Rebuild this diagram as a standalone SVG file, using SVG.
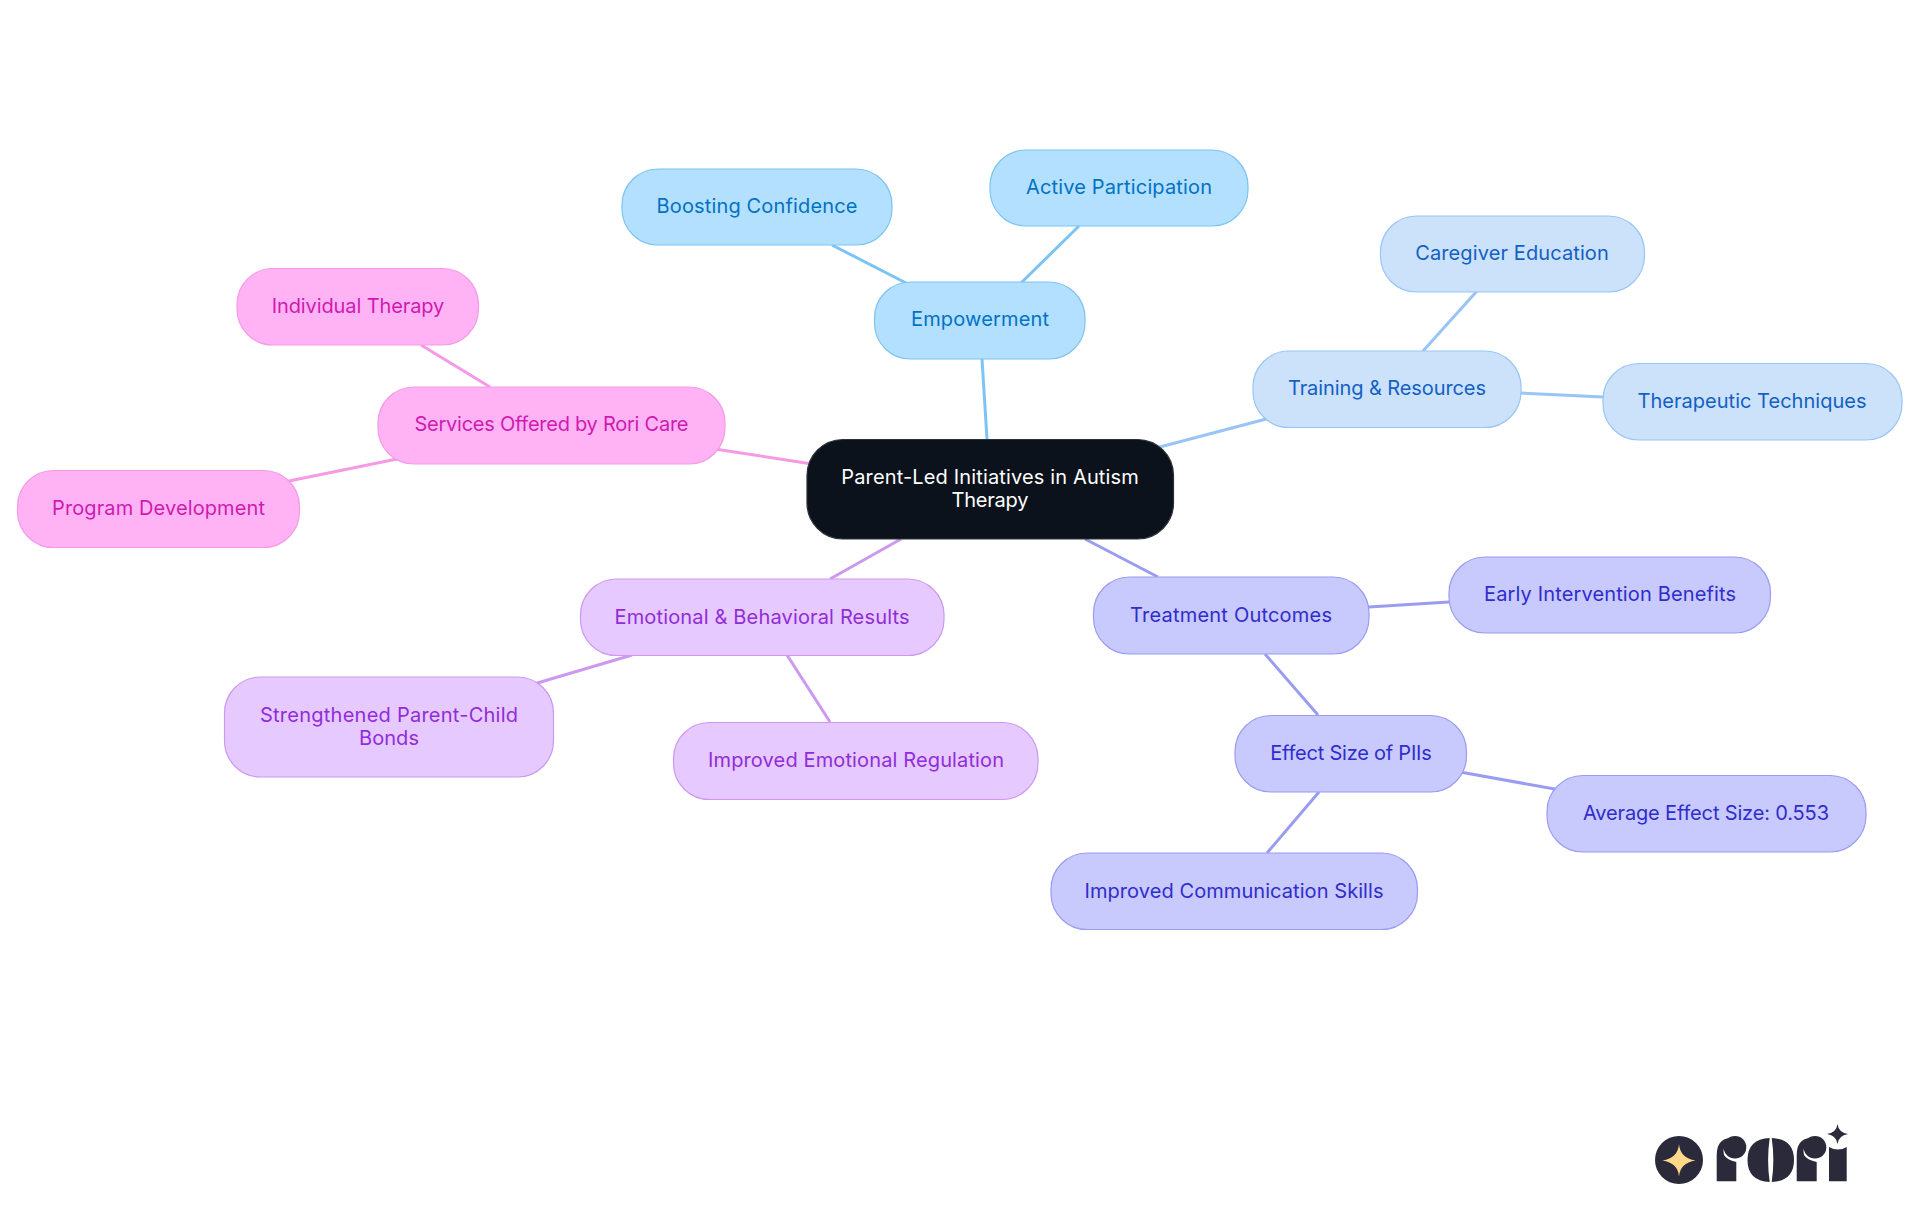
<svg xmlns="http://www.w3.org/2000/svg" width="1920" height="1215" viewBox="0 0 1920 1215">
<style>
text{font-family:"Inter","Noto Sans","Liberation Sans",sans-serif;font-size:20px;font-weight:400;text-anchor:middle}
rect{stroke-width:1.2}
#connectors line{stroke-width:3;fill:none}
.c0 rect{fill:#0b121b;stroke:#2b3038}.c0 text{fill:#fff}
.c1 rect{fill:#b3e0ff;stroke:#7dc3f3}.c1 text{fill:#0272c4}
.c2 rect{fill:#cce2fb;stroke:#98c5f5}.c2 text{fill:#1260c4}
.c3 rect{fill:#c8c9fd;stroke:#9a9cf0}.c3 text{fill:#2f2dcc}
.c4 rect{fill:#e6c9ff;stroke:#cc99f0}.c4 text{fill:#902dd8}
.c5 rect{fill:#ffb3f5;stroke:#f59ae6}.c5 text{fill:#cf1ab0}
.l1{stroke:#7dc3f3}.l2{stroke:#98c5f5}.l3{stroke:#9a9cf0}.l4{stroke:#cc99f0}.l5{stroke:#f59ae6}
.logo{fill:#2a2a3a}
</style>
<rect width="1920" height="1215" fill="#fff" style="stroke:none"/>
<g id="connectors">
<line class="l1" x1="982" y1="359" x2="987" y2="439"/>
<line class="l1" x1="832" y1="245" x2="906" y2="283"/>
<line class="l1" x1="1079" y1="226" x2="1021" y2="283"/>
<line class="l2" x1="1270" y1="418" x2="1156" y2="448"/>
<line class="l2" x1="1477" y1="291" x2="1423" y2="351"/>
<line class="l2" x1="1521" y1="393" x2="1603" y2="397"/>
<line class="l3" x1="1085" y1="539" x2="1158" y2="577"/>
<line class="l3" x1="1369" y1="607" x2="1449" y2="602"/>
<line class="l3" x1="1265" y1="654" x2="1318" y2="715"/>
<line class="l3" x1="1460" y1="772" x2="1560" y2="790"/>
<line class="l3" x1="1319" y1="792" x2="1267" y2="853"/>
<line class="l4" x1="901" y1="539" x2="830" y2="579"/>
<line class="l4" x1="632" y1="655" x2="534" y2="684"/>
<line class="l4" x1="787" y1="655" x2="830" y2="722"/>
<line class="l5" x1="715" y1="449" x2="812" y2="464"/>
<line class="l5" x1="421" y1="345" x2="490" y2="387"/>
<line class="l5" x1="284" y1="482" x2="402" y2="458"/>
</g>
<g id="root" class="c0"><rect x="807" y="439.500" width="366.500" height="99.500" rx="36"/><text x="990" y="484" textLength="297.500">Parent-Led Initiatives in Autism</text><text x="990" y="507" textLength="77">Therapy</text></g>
<g id="empowerment" class="c1"><rect x="874.500" y="282" width="210.500" height="77" rx="36"/><text x="980" y="326" textLength="138">Empowerment</text></g>
<g id="boosting" class="c1"><rect x="622" y="169" width="270" height="76" rx="36"/><text x="757" y="213" textLength="201">Boosting Confidence</text></g>
<g id="active" class="c1"><rect x="990" y="150" width="258" height="76" rx="36"/><text x="1119" y="194" textLength="186">Active Participation</text></g>
<g id="training" class="c2"><rect x="1253" y="351" width="268" height="76.500" rx="36"/><text x="1387" y="395" textLength="198">Training &amp; Resources</text></g>
<g id="caregiver" class="c2"><rect x="1380.500" y="216" width="264" height="76" rx="36"/><text x="1512" y="260" textLength="193.500">Caregiver Education</text></g>
<g id="therapeutic" class="c2"><rect x="1603" y="363.500" width="299" height="76.500" rx="36"/><text x="1752" y="408" textLength="229">Therapeutic Techniques</text></g>
<g id="treatment" class="c3"><rect x="1093.500" y="577" width="275.500" height="77" rx="36"/><text x="1231" y="622" textLength="202">Treatment Outcomes</text></g>
<g id="early" class="c3"><rect x="1449" y="557" width="321.500" height="76" rx="36"/><text x="1610" y="601" textLength="252">Early Intervention Benefits</text></g>
<g id="effect" class="c3"><rect x="1235" y="715.500" width="231.500" height="76.500" rx="36"/><text x="1351" y="760" textLength="161.500">Effect Size of PIIs</text></g>
<g id="average" class="c3"><rect x="1547" y="775.500" width="319" height="76.500" rx="36"/><text x="1706" y="820" textLength="246">Average Effect Size: 0.553</text></g>
<g id="communication" class="c3"><rect x="1051" y="853" width="366.500" height="76.500" rx="36"/><text x="1234" y="898" textLength="299">Improved Communication Skills</text></g>
<g id="emotional" class="c4"><rect x="580.500" y="579" width="363.500" height="76.500" rx="36"/><text x="762" y="624" textLength="295">Emotional &amp; Behavioral Results</text></g>
<g id="bonds" class="c4"><rect x="224.500" y="677" width="329" height="100" rx="36"/><text x="389" y="722" textLength="258">Strengthened Parent-Child</text><text x="389" y="745" textLength="60">Bonds</text></g>
<g id="regulation" class="c4"><rect x="673.500" y="722.500" width="364.500" height="77" rx="36"/><text x="856" y="767" textLength="296">Improved Emotional Regulation</text></g>
<g id="services" class="c5"><rect x="378" y="387" width="347" height="77" rx="36"/><text x="551.500" y="431" textLength="274">Services Offered by Rori Care</text></g>
<g id="individual" class="c5"><rect x="237" y="268.500" width="241.500" height="76.500" rx="36"/><text x="358" y="313" textLength="172.500">Individual Therapy</text></g>
<g id="program" class="c5"><rect x="17.500" y="470.500" width="282" height="77" rx="36"/><text x="158.500" y="515" textLength="213">Program Development</text></g>
<g id="logo">
<circle class="logo" cx="1679" cy="1160" r="24"/>
<path fill="#ffd98a" d="M1679 1144Q1680 1158 1695.500 1160.500Q1680 1163 1679 1176.500Q1678 1163 1662.500 1160.500Q1678 1158 1679 1144Z"/>
<path class="logo" d="M1716.700 1181.300V1155Q1716.700 1140 1729 1138Q1722 1146 1724 1155Q1727 1160 1736.300 1162V1181.300Z"/>
<circle class="logo" cx="1735" cy="1147.300" r="11.300"/>
<path class="logo" d="M1769.700 1138Q1747.500 1139 1747.500 1160Q1747.500 1181 1769.700 1182Q1766.500 1160 1769.700 1138Z"/>
<path class="logo" d="M1771.700 1138Q1794 1139 1794 1160Q1794 1181 1771.700 1182Q1775 1160 1771.700 1138Z"/>
<path class="logo" d="M1796.700 1181.300V1155Q1796.700 1140 1809 1138Q1802 1146 1804 1155Q1807 1160 1816.700 1162V1181.300Z"/>
<circle class="logo" cx="1815" cy="1147.300" r="11.300"/>
<path class="logo" d="M1829 1181.300V1147Q1838 1152 1846.700 1147V1181.300Z"/>
<path class="logo" d="M1837.500 1124Q1838.500 1132.500 1848 1134Q1838.500 1135.500 1837.500 1144Q1836.500 1135.500 1827 1134Q1836.500 1132.500 1837.500 1124Z"/>
</g>
</svg>
